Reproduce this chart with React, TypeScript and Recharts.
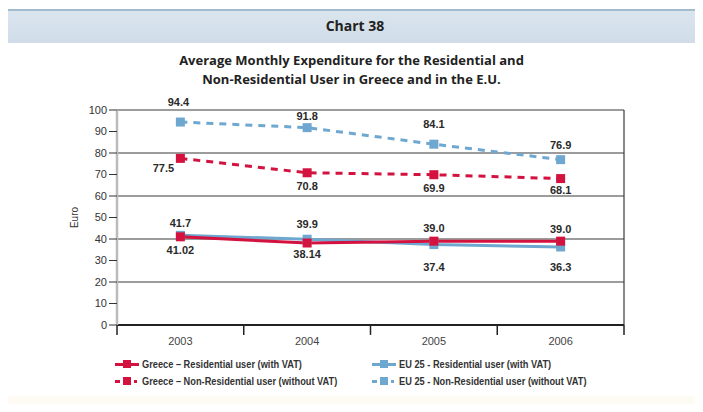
import React from 'react';
import { LineChart, Line, XAxis, YAxis, CartesianGrid, ReferenceLine, LabelList } from 'recharts';

const YEARS = [2003, 2004, 2005, 2006];
const GR_RES = [41.02, 38.14, 39.0, 39.0];
const EU_RES = [41.7, 39.9, 37.4, 36.3];
const GR_NONRES = [77.5, 70.8, 69.9, 68.1];
const EU_NONRES = [94.4, 91.8, 84.1, 76.9];
const LABELS_GR_RES = ['41.02', '38.14', '39.0', '39.0'];
const LABELS_EU_RES = ['41.7', '39.9', '37.4', '36.3'];
const LABELS_GR_NONRES = ['77.5', '70.8', '69.9', '68.1'];
const LABELS_EU_NONRES = ['94.4', '91.8', '84.1', '76.9'];
const Y_TICKS = [0, 10, 20, 30, 40, 50, 60, 70, 80, 90, 100];
const BOUNDS = [2002.5, 2003.5, 2004.5, 2005.5, 2006.5];

const RED = '#d3123f';
const BLUE = '#6ea8d0';
const NARROW = '"Liberation Sans Narrow", "Arial Narrow", "Liberation Sans", sans-serif';

const data = YEARS.map((year, i) => ({
  year,
  grRes: GR_RES[i],
  euRes: EU_RES[i],
  grNon: GR_NONRES[i],
  euNon: EU_NONRES[i],
}));

// label offsets (dx, dy) relative to each point
const OFF_GR_RES = [[0, 13], [0, 11], [0, -13], [0, -12]];
const OFF_EU_RES = [[0, -12], [0, -15], [0, 22], [0, 20]];
const OFF_GR_NON = [[-17, 10], [0, 13], [0, 13], [0, 11]];
const OFF_EU_NON = [[-2, -20], [0, -12], [0, -20], [0, -15]];

const makeLabel = (texts: string[], offs: number[][]) => (props: any) => {
  const { x, y, index } = props;
  const [dx, dy] = offs[index];
  return (
    <text
      x={x + dx}
      y={y + dy}
      textAnchor="middle"
      dominantBaseline="central"
      fontFamily={NARROW}
      fontWeight="bold"
      fontSize={11}
      fill="#2a2a2a"
    >
      {texts[index]}
    </text>
  );
};

const squareDot = (color: string) => (props: any) => {
  const { cx, cy, index } = props;
  return <rect key={index} x={cx - 4.5} y={cy - 4.5} width={9} height={9} fill={color} />;
};

const LegendMark = ({ color, dashed }: { color: string; dashed: boolean }) => (
  <svg width={26} height={10} style={{ marginRight: 2, flex: 'none' }}>
    {dashed ? (
      <>
        <rect x={1} y={4} width={5} height={3} fill={color} />
        <rect x={9} y={1} width={8} height={8} fill={color} />
        <rect x={20} y={4} width={3} height={3} fill={color} />
      </>
    ) : (
      <>
        <rect x={1} y={4} width={24} height={3} fill={color} />
        <rect x={9} y={1} width={8} height={8} fill={color} />
      </>
    )}
  </svg>
);

const LegendItem = ({ color, dashed, text, left, top }: any) => (
  <div
    style={{
      position: 'absolute',
      left,
      top,
      display: 'flex',
      alignItems: 'center',
      fontFamily: NARROW,
      fontWeight: 'bold',
      fontSize: 10.5,
      color: '#333',
      whiteSpace: 'nowrap',
    }}
  >
    <LegendMark color={color} dashed={dashed} />
    <span style={{ display: 'inline-block', transform: 'scaleX(0.88)', transformOrigin: 'left center' }}>{text}</span>
  </div>
);

const App: React.FC = () => {
  return (
    <div style={{ position: 'relative', width: 703, height: 412, margin: -8, background: '#fff', overflow: 'hidden' }}>
      <div
        style={{
          position: 'absolute',
          left: 7,
          right: 0,
          top: 9,
          height: 32,
          background: 'linear-gradient(#dae5ee, #d0dce8)',
          borderTop: '2px solid #a3bccf',
        }}
      />
      <div style={{ position: 'absolute', left: 0, right: 0, top: 396, bottom: 0, background: '#fdfbf4' }} />
      <div style={{ position: 'absolute', left: 7, right: 0, top: 16, textAlign: 'center', fontFamily: '"Open Sans", sans-serif', fontWeight: 'bold', fontSize: 14, color: '#222' }}>
        Chart 38
      </div>
      <div style={{ position: 'absolute', left: 0, right: 0, top: 51, textAlign: 'center', fontFamily: '"Open Sans", sans-serif', fontWeight: 'bold', fontSize: 13, lineHeight: '19px', color: '#222' }}>
        Average Monthly Expenditure for the Residential and
        <br />
        Non-Residential User in Greece and in the E.U.
      </div>
      <div style={{ position: 'absolute', left: 0, top: 0 }}>
        <LineChart width={703} height={412} data={data} margin={{ top: 110, right: 79, bottom: 57, left: 77 }}>
          <CartesianGrid vertical={false} stroke="#3a3a3a" strokeWidth={1.2} />
          <XAxis
            dataKey="year"
            type="number"
            domain={[2002.5, 2006.5]}
            ticks={YEARS}
            tickLine={false}
            axisLine={{ stroke: '#222', strokeWidth: 2 }}
            height={30}
            tick={{ fontFamily: NARROW, fontSize: 11, fill: '#444' }}
            tickMargin={6}
          />
          <YAxis
            domain={[0, 100]}
            ticks={Y_TICKS}
            width={40}
            tickSize={8}
            tickLine={{ stroke: '#333' }}
            axisLine={{ stroke: '#bbb', strokeWidth: 2.5 }}
            tick={{ fontFamily: NARROW, fontSize: 11, fill: '#333' }}
            label={{ value: 'Euro', angle: -90, position: 'insideLeft', dx: -8, style: { fontFamily: NARROW, fontSize: 10, fill: '#333', textAnchor: 'middle' } }}
          />
          <ReferenceLine x={2006.5} stroke="#3a3a3a" strokeWidth={1.2} />
          {BOUNDS.map((b) => (
            <ReferenceLine
              key={b}
              segment={[{ x: b, y: 0 }, { x: b, y: -4.6 }]}
              ifOverflow="visible"
              stroke="#222"
              strokeWidth={1.5}
            />
          ))}
          <Line dataKey="euNon" stroke={BLUE} strokeWidth={3} strokeDasharray="7 6" dot={squareDot(BLUE)} isAnimationActive={false}>
            <LabelList dataKey="euNon" content={makeLabel(LABELS_EU_NONRES, OFF_EU_NON)} />
          </Line>
          <Line dataKey="grNon" stroke={RED} strokeWidth={3} strokeDasharray="7 6" dot={squareDot(RED)} isAnimationActive={false}>
            <LabelList dataKey="grNon" content={makeLabel(LABELS_GR_NONRES, OFF_GR_NON)} />
          </Line>
          <Line dataKey="euRes" stroke={BLUE} strokeWidth={3} dot={squareDot(BLUE)} isAnimationActive={false}>
            <LabelList dataKey="euRes" content={makeLabel(LABELS_EU_RES, OFF_EU_RES)} />
          </Line>
          <Line dataKey="grRes" stroke={RED} strokeWidth={3} dot={squareDot(RED)} isAnimationActive={false}>
            <LabelList dataKey="grRes" content={makeLabel(LABELS_GR_RES, OFF_GR_RES)} />
          </Line>
        </LineChart>
      </div>
      <LegendItem color={RED} dashed={false} text="Greece – Residential user (with VAT)" left={114} top={358} />
      <LegendItem color={RED} dashed text="Greece – Non-Residential user (without VAT)" left={114} top={375} />
      <LegendItem color={BLUE} dashed={false} text="EU 25 - Residential user (with VAT)" left={371} top={358} />
      <LegendItem color={BLUE} dashed text="EU 25 - Non-Residential user (without VAT)" left={371} top={375} />
    </div>
  );
};

export default App;
